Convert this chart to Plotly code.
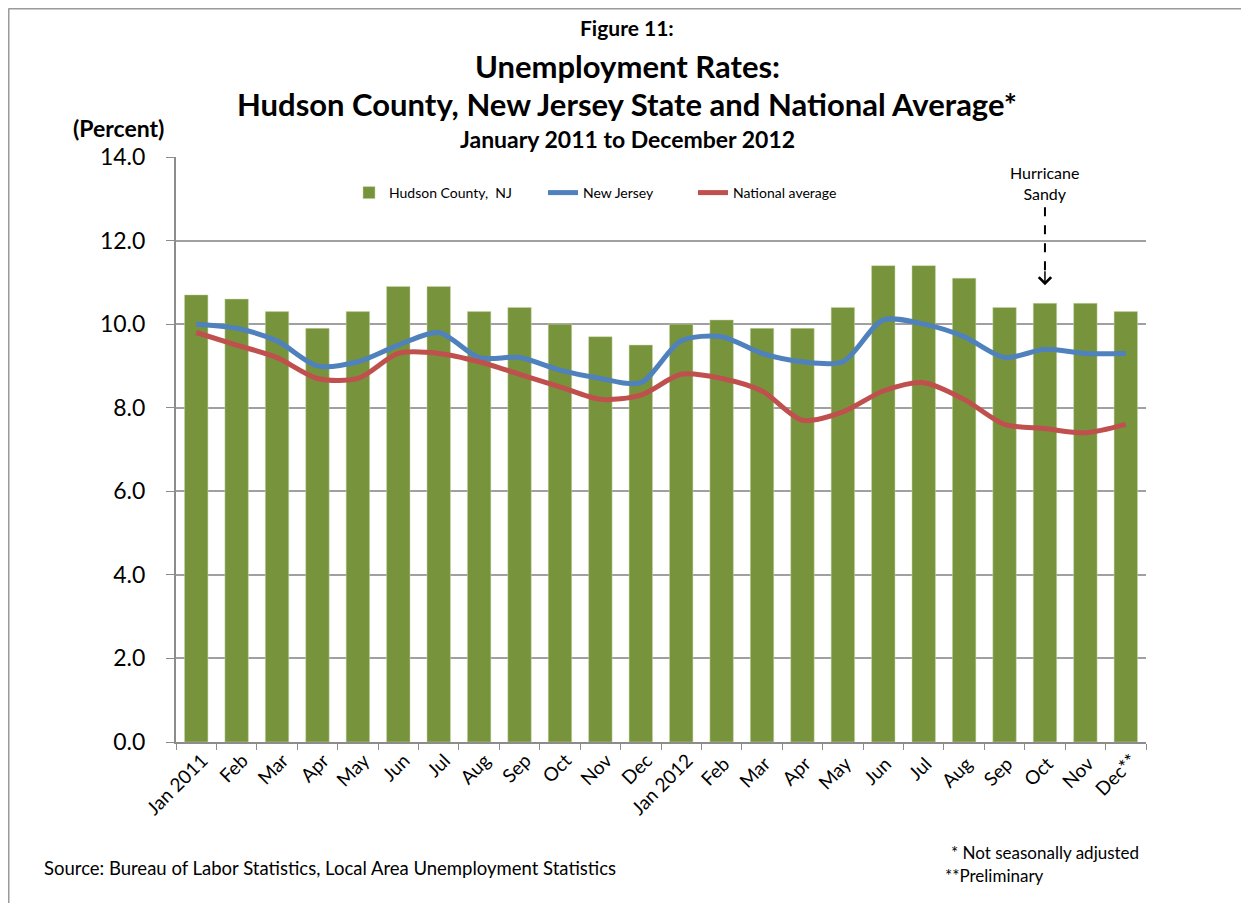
import plotly.graph_objects as go

months = ["Jan 2011", "Feb", "Mar", "Apr", "May", "Jun", "Jul", "Aug", "Sep", "Oct", "Nov", "Dec",
          "Jan 2012", "Feb ", "Mar ", "Apr ", "May ", "Jun ", "Jul ", "Aug ", "Sep ", "Oct ", "Nov ", "Dec**"]

hudson = [10.7, 10.6, 10.3, 9.9, 10.3, 10.9, 10.9, 10.3, 10.4, 10.0, 9.7, 9.5,
          10.0, 10.1, 9.9, 9.9, 10.4, 11.4, 11.4, 11.1, 10.4, 10.5, 10.5, 10.3]
new_jersey = [10.0, 9.9, 9.6, 9.0, 9.1, 9.5, 9.8, 9.2, 9.2, 8.9, 8.7, 8.6,
              9.6, 9.7, 9.3, 9.1, 9.1, 10.1, 10.0, 9.7, 9.2, 9.4, 9.3, 9.3]
national = [9.8, 9.5, 9.2, 8.7, 8.7, 9.3, 9.3, 9.1, 8.8, 8.5, 8.2, 8.3,
            8.8, 8.7, 8.4, 7.7, 7.9, 8.4, 8.6, 8.2, 7.6, 7.5, 7.4, 7.6]

font = "Lato"

# page pixel -> paper coords (plot area spans x 176..1146, y 157..742 on the page)
def px(x):
    return (x - 176) / 970

def py(y):
    return (742 - y) / 585

fig = go.Figure()
fig.add_trace(go.Bar(x=months, y=hudson, name="Hudson County,  NJ",
                     marker=dict(color="#77933C", line=dict(color="#C9D8A8", width=0.5)),
                     width=0.58, legend="legend"))
fig.add_trace(go.Scatter(x=months, y=new_jersey, name="New Jersey", mode="lines",
                         line=dict(color="#4F81BD", width=5, shape="spline", smoothing=0.8),
                         legend="legend2"))
fig.add_trace(go.Scatter(x=months, y=national, name="National average", mode="lines",
                         line=dict(color="#C0504D", width=5, shape="spline", smoothing=0.8),
                         legend="legend3"))

# hurricane sandy marker: dashed shaft + open arrow head
fig.add_shape(type="line", xref="x", yref="y", x0="Oct ", x1="Oct ", y0=12.8, y1=11.2,
              line=dict(color="black", width=2, dash="dash"))
fig.add_annotation(x="Oct ", y=10.93, ax="Oct ", ay=11.3, xref="x", yref="y", axref="x", ayref="y",
                   text="", showarrow=True, arrowhead=4, arrowsize=1.6, arrowwidth=1.5,
                   arrowcolor="black")
fig.add_annotation(x="Oct ", y=13.38, xref="x", yref="y", text="Hurricane<br>Sandy",
                   showarrow=False, font=dict(family=font, size=16, color="black"))

# titles
for txt, yy, sz in [("Figure 11:", 28, 21), ("Unemployment Rates:", 66, 31),
                    ("Hudson County, New Jersey State and National Average*", 104, 31),
                    ("January 2011 to December 2012", 139, 23)]:
    fig.add_annotation(x=px(627), y=py(yy), xref="paper", yref="paper",
                       text="<b>%s</b>" % txt, showarrow=False, xanchor="center", yanchor="middle",
                       font=dict(family=font, size=sz, color="black"))

fig.add_annotation(x=px(118), y=py(128), xref="paper", yref="paper", xanchor="center", yanchor="middle",
                   text="<b>(Percent)</b>", showarrow=False, font=dict(family=font, size=23, color="black"))

fig.add_annotation(x=px(42), y=py(868), xref="paper", yref="paper", xanchor="left", yanchor="middle",
                   text="Source: Bureau of Labor Statistics, Local Area Unemployment Statistics",
                   showarrow=False, font=dict(family=font, size=18.5, color="black"))
fig.add_annotation(x=px(949), y=py(852), xref="paper", yref="paper", xanchor="left", yanchor="middle",
                   text="* Not seasonally adjusted", showarrow=False,
                   font=dict(family=font, size=17, color="black"))
fig.add_annotation(x=px(943), y=py(875), xref="paper", yref="paper", xanchor="left", yanchor="middle",
                   text="**Preliminary", showarrow=False,
                   font=dict(family=font, size=17, color="black"))

# outer frame (top and left edges visible)
fig.add_shape(type="line", xref="paper", yref="paper", x0=px(8.5), x1=px(1270),
              y0=py(8.5), y1=py(8.5), line=dict(color="#9A9A9A", width=2))
fig.add_shape(type="line", xref="paper", yref="paper", x0=px(8.5), x1=px(8.5),
              y0=py(8.5), y1=py(920), line=dict(color="#9A9A9A", width=2))

legend_style = dict(orientation="h", yanchor="middle", xanchor="left", y=py(193),
                    font=dict(family=font, size=14, color="black"), bgcolor="rgba(0,0,0,0)",
                    itemwidth=30)

fig.update_layout(
    width=1249, height=903,
    margin=dict(l=168, r=111, t=149, b=169),
    paper_bgcolor="white", plot_bgcolor="white",
    font=dict(family=font, color="black"),
    showlegend=True,
    legend=dict(x=px(349), **legend_style),
    legend2=dict(x=px(543), **legend_style),
    legend3=dict(x=px(693), **legend_style),
    xaxis=dict(type="category", tickangle=-45, tickfont=dict(family=font, size=19),
               showline=True, linecolor="#8C8C8C", linewidth=2, ticks="outside",
               tickson="boundaries", ticklen=6, tickcolor="#8C8C8C", showgrid=False,
               ticklabelshift=6, ticklabelstandoff=-2),
    yaxis=dict(range=[0, 14], dtick=2, tickformat=".1f", tickfont=dict(family=font, size=23),
               showline=True, linecolor="#8C8C8C", linewidth=2, ticks="outside", ticklen=8,
               tickcolor="#8C8C8C", ticklabelstandoff=16, showgrid=True, gridcolor="#A0A0A0",
               gridwidth=1.5, zeroline=False),
)

fig.write_html("out.html")
